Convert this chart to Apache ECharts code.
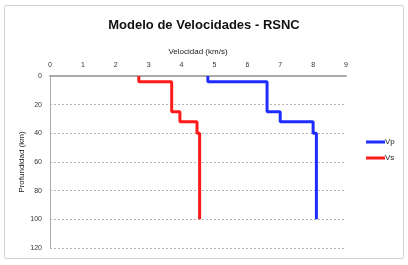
<!DOCTYPE html>
<html><head><meta charset="utf-8">
<script src="https://cdn.jsdelivr.net/npm/echarts@6/dist/echarts.min.js"></script>
<style>html,body{margin:0;padding:0;background:#fff}#c{width:408px;height:265px}</style>
</head><body><div id="c"></div>
<script>
// Layer boundaries (km) and velocities (km/s)
const layerTop    = [0, 4, 25, 32, 40];
const layerBottom = [4, 25, 32, 40, 100];
const vp = [4.8, 6.6, 7.0, 8.0, 8.1];
const vs = [2.7, 3.7, 3.95, 4.47, 4.55];
const xTicks = [0,1,2,3,4,5,6,7,8,9];
const yTicks = [0,20,40,60,80,100,120];

function profile(v){
  const pts=[];
  for(let i=0;i<v.length;i++){pts.push([v[i],layerTop[i]]);pts.push([v[i],layerBottom[i]]);}
  return pts;
}
const chart = echarts.init(document.getElementById('c'));
chart.setOption({
  animation:false,
  graphic:[{type:'rect',shape:{x:4.5,y:5.5,width:399,height:253,r:2},style:{fill:'none',stroke:'#d0d0d0',lineWidth:1}}],
  title:{text:'Modelo de Velocidades - RSNC',left:'center',top:14,
    textStyle:{fontFamily:'Liberation Sans',fontWeight:'bold',fontSize:13,color:'#111'}},
  legend:{orient:'vertical',left:361,top:133,itemWidth:19,itemHeight:3,itemGap:8,
    icon:'rect',textStyle:{fontSize:8,color:'#222',padding:[0,0,0,-5]},data:['Vp','Vs']},
  grid:{left:50,right:62,top:76,bottom:17},
  xAxis:{type:'value',position:'top',min:0,max:9,interval:1,
    name:'Velocidad (km/s)',nameLocation:'middle',nameGap:20,nameMoveOverlap:false,
    nameTextStyle:{fontSize:8,color:'#222'},
    axisLine:{lineStyle:{color:'#aaa',width:2}},axisTick:{show:false},
    axisLabel:{fontSize:7,color:'#333',margin:7},splitLine:{show:false}},
  yAxis:{type:'value',inverse:true,min:0,max:120,interval:20,
    name:'Profundidad (km)',nameLocation:'middle',nameGap:24,nameRotate:90,nameMoveOverlap:false,
    nameTextStyle:{fontSize:8,color:'#222'},
    axisLine:{show:true,lineStyle:{color:'#aaa',width:1}},axisTick:{show:false},
    axisLabel:{fontSize:7,color:'#333',margin:8},
    splitLine:{show:true,lineStyle:{color:'#b5b5b5',type:[2,2],width:1}}},
  series:[
    {name:'Vp',type:'line',data:profile(vp),symbol:'none',lineStyle:{color:'#1f2cff',width:3},itemStyle:{color:'#1f2cff'}},
    {name:'Vs',type:'line',data:profile(vs),symbol:'none',lineStyle:{color:'#ff1a1a',width:3},itemStyle:{color:'#ff1a1a'}}
  ]
});
</script></body></html>
